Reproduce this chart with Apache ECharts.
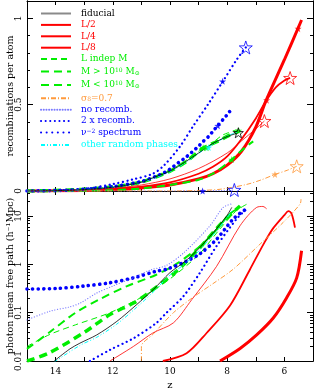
<!DOCTYPE html>
<html><head><meta charset="utf-8">
<script src="https://cdn.jsdelivr.net/npm/echarts@6/dist/echarts.min.js"></script>
<style>html,body{margin:0;padding:0;background:#fff}#c{width:314px;height:389px}</style>
</head><body><div id="c"></div>
<script>
// ---------- TOP PANEL: recombinations per atom vs z ----------
const zFid = [15,14,13,12,11,10.7,10,9.5,9,8.5,8,7.61];
const rFid = [0,0.002,0.008,0.022,0.05,0.07,0.115,0.165,0.22,0.275,0.315,0.337];
const zL2 = [15,14,13,12,11,10,9,8,7.5,7,6.7];
const rL2 = [0,0.002,0.006,0.016,0.035,0.07,0.13,0.22,0.29,0.36,0.405];
const zL4 = [15,14,13,12,11,10,9,8.5,8,7.5,7,6.65,6.3,6,5.8];
const rL4 = [0,0.001,0.004,0.012,0.025,0.05,0.1,0.14,0.2,0.3,0.42,0.52,0.6,0.64,0.655];
const zL8 = [15,14,13,12,11,10,9,8.5,8,7.5,7,6.65,6,5.4];
const rL8 = [0,0.001,0.003,0.008,0.018,0.035,0.07,0.1,0.15,0.23,0.37,0.52,0.76,0.99];
const zLi = [15,14,13,12,11,10,9.5,9,8.7,8.2,8,7.67];
const rLi = [0,0.003,0.01,0.025,0.055,0.12,0.17,0.23,0.255,0.32,0.335,0.355];
const zMg = [15,13,12,11,10.7,10,9,8.5,8,7.84,7.5,7.09];
const rMg = [0,0.002,0.005,0.014,0.02,0.035,0.065,0.1,0.16,0.182,0.235,0.287];
const zMl = [15,14,13,12,11,10,9.42,8.84,8.3,7.9,7.6];
const rMl = [0,0.003,0.01,0.024,0.052,0.115,0.172,0.249,0.29,0.325,0.345];
const zS8 = [15,10,9,8.25,7.32,6.8,6.33,5.9,5.57];
const rS8 = [0,0,0.003,0.01,0.038,0.065,0.096,0.12,0.143];
const zNr = [15,12,10,8,7.75];
const rNr = [0,0,0,0.003,0.006];
const zTx = [15,14,13,12,11.3,10.6,10.2,9.65,9.2,8.65,8.15,7.65,7.35];
const rTx = [0,0.003,0.012,0.04,0.067,0.1,0.15,0.258,0.373,0.507,0.635,0.765,0.831];
const zNu = [15,14,13,12,11,10.47,10.17,9.94,9.71,9.48,9.24,9.01,8.84,8.63,8.49,8.31,8.11,7.96,7.81];
const rNu = [0,0.002,0.01,0.025,0.055,0.086,0.109,0.134,0.163,0.191,0.224,0.258,0.287,0.319,0.348,0.382,0.421,0.45,0.484];
const zOp = [15,14,13,12,11,10,9.5,9,8.7,8.3,7.9,7.65];
const rOp = [0,0.002,0.008,0.022,0.05,0.112,0.16,0.218,0.25,0.29,0.325,0.34];

// star markers (top panel)
const openBlack = [[7.61,0.337]];
const openRed = [[6.70,0.405],[5.80,0.654]];
const openBlue = [[7.35,0.831],[7.75,0.006]];
const openOrange = [[5.57,0.143]];
const filledRed = [[6.62,0.526],[5.52,0.94]];
const filledBlue = [[8.16,0.635],[8.33,0.378],[8.86,0.0]];
const filledGreen = [[7.84,0.182],[8.84,0.25],[8.72,0.25],[7.6,0.35]];
const filledCyan = [[8.65,0.252]];
const filledOrange = [[6.33,0.096]];

// ---------- BOTTOM PANEL: photon mean free path (h^-1 Mpc) vs z ----------
const zFidM = [14.05,13.5,13.15,12.56,11.86,11.16,10.58,10.0,9.5,9.07,8.5,8.02,7.84];
const mFid = [0.01,0.0178,0.0234,0.0347,0.066,0.148,0.302,0.676,1.12,1.9,4.47,10,15.1];
const zL2M = [12.1,11.28,10.6,9.88,9.24,8.37,7.55,6.97,6.75,6.62];
const mL2 = [0.01,0.02,0.038,0.0617,0.186,0.912,6.31,15.1,15.8,14.1];
const zL4M = [10.25,9.42,8.72,7.9,7.2,6.7,6.39,6.0,5.86,5.75,5.63];
const mL4 = [0.01,0.0145,0.038,0.141,0.794,2.82,5.62,10.5,12.6,11.2,5.75];
const zL8M = [8.25,7.55,6.97,6.39,5.92,5.57,5.4];
const mL8 = [0.01,0.0182,0.0347,0.0776,0.204,0.525,1.91];
const zLiM = [15,14.2,13.3,12.1,10.93,10.0,9.0,8.3,7.7,7.3];
const mLi = [0.02,0.0355,0.0562,0.1,0.219,0.501,1.58,5.01,12.6,17.8];
const zMgM = [15,14.2,13.3,12.45,11.5,10.5,9.8,9.0,8.4,7.9,7.5];
const mMg = [0.0178,0.0398,0.1,0.191,0.355,0.603,1.0,2.24,5.01,11.2,15.8];
const zMlM = [15,14.25,13.03,12.1,11.28,10.82,9.77,8.95,8.2,7.55];
const mMl = [0.01,0.0145,0.038,0.0912,0.158,0.24,0.724,2.24,7.08,16.2];
const zS8M = [11.0,11.0,10.6,9.88,9.19,8.5,7.79,6.85,6.04,5.45,5.42];
const mS8 = [0.01,0.02,0.0355,0.1,0.209,0.398,0.794,2.63,7.41,17.8,22.4];
const zNrM = [15,14.2,13.5,13.14,12.55,12,11.3,10.7,10.12,9.5,8.6,8.14,7.85];
const mNr = [0.0708,0.107,0.132,0.158,0.257,0.355,0.525,0.759,0.955,1.78,6.31,15.1,17.8];
const zTxM = [12.8,12.1,11.28,10.47,10.12,9.53,8.95,8.37,7.67,7.32];
const mTx = [0.01,0.017,0.0295,0.0617,0.1,0.219,0.676,2.4,8.71,14.1];
const zNuM = [15,14,13.03,12.1,11.28,10.47,10.12,9.42,8.95,8.37,7.79,7.4];
const mNu = [0.309,0.316,0.355,0.417,0.525,0.724,0.794,1.17,1.66,3.31,8.71,13.2];
const zOpM = [14.05,13.15,12.56,11.86,11.16,10.58,10,9.5,9.07,8.5,8.02,7.8];
const mOp = [0.0095,0.021,0.031,0.058,0.13,0.27,0.6,1.0,1.7,4.0,9.0,13.5];

// ticks / labels
const xLabels = [6,8,10,12,14];
const yTopLabels = [0,0.5,1];
const yLogMajor = [0.01,0.1,1,10];
const yLogMinor = [0.02,0.03,0.04,0.05,0.06,0.07,0.08,0.09,0.2,0.3,0.4,0.5,0.6,0.7,0.8,0.9,2,3,4,5,6,7,8,9,20,30];

const names = ['fiducial','L/2','L/4','L/8','L indep M','M > 10^10 Msun','M < 10^10 Msun','sigma8=0.7','no recomb.','2 x recomb.','nu^-2 spectrum','other random phases'];
const richNames = {
  'M > 10^10 Msun': 'M > 10{sup|10} M{sub|⊙}',
  'M < 10^10 Msun': 'M < 10{sup|10} M{sub|⊙}',
  'sigma8=0.7': 'σ{sub|8}=0.7',
  'nu^-2 spectrum': 'ν{sup|−2} spectrum'
};

const RED='#ff0000', GREEN='#00ee00', BLUE='#0000ff', LBLUE='#7b7bff', ORANGE='#ff9a3c', CYAN='#00ffff', BLACK='#000000';
const FONT='DejaVu Serif';
const pair = (zs, vs) => zs.map((z,i)=>[z, vs[i]]);

const styles = {
  'fiducial': {color:BLACK, width:0.8, type:'solid'},
  'L/2': {color:RED, width:0.8, type:'solid'},
  'L/4': {color:RED, width:1.8, type:'solid'},
  'L/8': {color:RED, width:3, type:'solid'},
  'L indep M': {color:GREEN, width:1, type:[6,4]},
  'M > 10^10 Msun': {color:GREEN, width:2, type:[8,5]},
  'M < 10^10 Msun': {color:GREEN, width:3.5, type:[8,5]},
  'sigma8=0.7': {color:ORANGE, width:1, type:[5,2,1,2]},
  'no recomb.': {color:LBLUE, width:1.2, type:[0.1,2.6], cap:'round'},
  '2 x recomb.': {color:BLUE, width:2.2, type:[0.1,4.5], cap:'round'},
  'nu^-2 spectrum': {color:BLUE, width:3.6, type:[0.1,5.5], cap:'round'},
  'other random phases': {color:CYAN, width:1, type:[4,2,1,2,1,2]}
};

const topData = {
  'fiducial':[zFid,rFid],'L/2':[zL2,rL2],'L/4':[zL4,rL4],'L/8':[zL8,rL8],
  'L indep M':[zLi,rLi],'M > 10^10 Msun':[zMg,rMg],'M < 10^10 Msun':[zMl,rMl],
  'sigma8=0.7':[zS8,rS8],'no recomb.':[zNr,rNr],'2 x recomb.':[zTx,rTx],
  'nu^-2 spectrum':[zNu,rNu],'other random phases':[zOp,rOp]
};
const botData = {
  'fiducial':[zFidM,mFid],'L/2':[zL2M,mL2],'L/4':[zL4M,mL4],'L/8':[zL8M,mL8],
  'L indep M':[zLiM,mLi],'M > 10^10 Msun':[zMgM,mMg],'M < 10^10 Msun':[zMlM,mMl],
  'sigma8=0.7':[zS8M,mS8],'no recomb.':[zNrM,mNr],'2 x recomb.':[zTxM,mTx],
  'nu^-2 spectrum':[zNuM,mNu],'other random phases':[zOpM,mOp]
};

// draw order (first drawn = bottom)
const drawOrder = ['L/8','L/4','M < 10^10 Msun','M > 10^10 Msun','L indep M','nu^-2 spectrum','2 x recomb.','no recomb.','sigma8=0.7','L/2','other random phases','fiducial'];

const series = [];
function lineSeries(name, d, xi, yi){
  const s = styles[name];
  return {type:'line', name, xAxisIndex:xi, yAxisIndex:yi, data:pair(d[0],d[1]),
    symbol:'none', smooth:0.3, animation:false, silent:true,
    lineStyle:{color:s.color, width:s.width, type:s.type, cap:s.cap||'butt'},
    itemStyle:{color:s.color}};
}
drawOrder.forEach(n=>series.push(lineSeries(n, topData[n], 0, 0)));
drawOrder.forEach(n=>series.push(lineSeries(n, botData[n], 2, 4)));

const STAR='path://M0,-10L2.35,-3.24L9.51,-3.09L3.8,1.24L5.88,8.09L0,4L-5.88,8.09L-3.8,1.24L-9.51,-3.09L-2.35,-3.24Z';
function stars(data, color, open, size){
  return {type:'scatter', name:'stars', xAxisIndex:0, yAxisIndex:0, data, symbol:STAR,
    symbolSize:size, clip:false, animation:false, silent:true, z:5,
    itemStyle: open ? {color:'rgba(0,0,0,0)', borderColor:color, borderWidth:1} : {color}};
}
series.push(stars(filledGreen, GREEN, false, 7));
series.push(stars(filledCyan, CYAN, false, 7));
series.push(stars(filledRed, RED, false, 7));
series.push(stars(filledBlue, BLUE, false, 7));
series.push(stars(filledOrange, ORANGE, false, 7));
series.push(stars(openBlack, BLACK, true, 10));
series.push(stars(openRed, RED, true, 13));
series.push(stars(openBlue, BLUE, true, 13));
series.push(stars(openOrange, ORANGE, true, 13));

const lblStyle = {fontFamily:FONT, fontSize:9, color:'#000'};
const xBase = (gi, pos, showLabel) => ({
  type:'value', gridIndex:gi, position:pos, min:5, max:15, inverse:true, interval:1,
  splitLine:{show:false},
  axisLine:{show:true, onZero:false, lineStyle:{color:'#000', width:1}},
  axisTick:{show:true, inside:true, length:4, lineStyle:{color:'#000'}},
  axisLabel:{show:showLabel, ...lblStyle, margin:6, formatter:v => xLabels.includes(v)? String(v):''}
});
const xAxis = [xBase(0,'bottom',false), xBase(0,'top',false), xBase(1,'bottom',true), xBase(1,'top',false)];
xAxis[2].name='z'; xAxis[2].nameLocation='middle'; xAxis[2].nameGap=19; xAxis[2].nameMoveOverlap=false;
xAxis[2].nameTextStyle={fontFamily:FONT, fontSize:10, color:'#000'};

const yTop = (pos, interval, len, showLabel) => ({
  type:'value', gridIndex:0, position:pos, min:0, max:1.1, interval,
  splitLine:{show:false},
  axisLine:{show:true, onZero:false, lineStyle:{color:'#000', width:1}},
  axisTick:{show:true, inside:true, length:len, lineStyle:{color:'#000'}},
  axisLabel:{show:showLabel, ...lblStyle, rotate:90, margin:4,
    formatter:v => yTopLabels.some(t=>Math.abs(t-v)<1e-9) ? String(v) : ''}
});
const yLog = (pos, vals, len, showLabel) => ({
  type:'log', logBase:10, gridIndex:1, position:pos, min:0.01, max:33,
  splitLine:{show:false},
  axisLine:{show:true, onZero:false, lineStyle:{color:'#000', width:1}},
  axisTick:{show:true, inside:true, length:len, customValues:vals, lineStyle:{color:'#000'}},
  axisLabel:{show:showLabel, ...lblStyle, rotate:90, margin:4, customValues:vals,
    formatter:v => String(+v.toPrecision(3))}
});
const yAxis = [
  yTop('left',0.5,6,true), yTop('right',0.5,6,false), yTop('left',0.1,3,false), yTop('right',0.1,3,false),
  yLog('left',yLogMajor,6,true), yLog('right',yLogMajor,6,false), yLog('left',yLogMinor,3,false), yLog('right',yLogMinor,3,false)
];
for (const i of [0,4]) {
  yAxis[i].nameLocation='middle'; yAxis[i].nameGap=11; yAxis[i].nameRotate=90; yAxis[i].nameMoveOverlap=false;
  yAxis[i].nameTextStyle={fontFamily:FONT, fontSize:9.5, color:'#000'};
}
yAxis[0].name='recombinations per atom';
yAxis[4].name='photon mean free path (h⁻¹Mpc)';

const option = {
  animation:false,
  backgroundColor:'#fff',
  grid:[
    {left:27, right:1, top:1, height:190, outerBoundsMode:'none', containLabel:false},
    {left:27, right:1, top:191, height:170, outerBoundsMode:'none', containLabel:false}
  ],
  xAxis, yAxis,
  legend:{
    orient:'vertical', left:35, top:4, itemWidth:30, itemHeight:8, itemGap:2.4,
    selectedMode:false,
    itemStyle:{color:'rgba(0,0,0,0)', borderColor:'rgba(0,0,0,0)', borderWidth:0},
    data: names.map(n=>{
      const item = {name:n, textStyle:{color:styles[n].color === LBLUE ? BLUE : styles[n].color}};
      if (n === 'fiducial') item.lineStyle = {color:'#8a8a8a', width:2};
      return item;
    }),
    textStyle:{fontFamily:FONT, fontSize:9, padding:[0,0,0,5], lineHeight:9,
      rich:{sup:{fontSize:6, verticalAlign:'top', lineHeight:6, padding:[0,0,4,0]},
            sub:{fontSize:6, verticalAlign:'bottom', lineHeight:6, padding:[4,0,0,0]}}},
    formatter: n => richNames[n] || n
  },
  series
};
const chart = echarts.init(document.getElementById('c'), null, {renderer:'canvas'});
chart.setOption(option);
</script></body></html>
